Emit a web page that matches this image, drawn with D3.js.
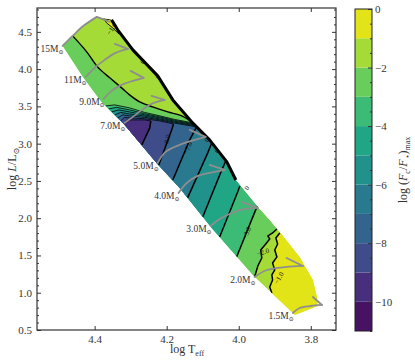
<!DOCTYPE html>
<html><head><meta charset="utf-8">
<script src="https://cdn.jsdelivr.net/npm/d3@7"></script>
<style>
body{margin:0;background:#fff}
svg text{font-family:'Liberation Serif','DejaVu Serif',serif !important}
</style>
</head><body>
<svg id="c" width="415" height="363"></svg>
<script>
// ---------- data (log Teff, log L) ----------
const levels = [-11,-10,-9,-8,-7,-6,-5,-4,-3,-2,-1,0];
const cbarTicks = [0,-2,-4,-6,-8,-10];
const xTicks = [4.4,4.2,4.0,3.8];
const yTicks = [0.5,1.0,1.5,2.0,2.5,3.0,3.5,4.0,4.5];

// ZAMS edge (top -> bottom)
const zams = [[4.489,4.312],[4.433,3.896],[4.381,3.560],[4.317,3.252],[4.228,2.742],
              [4.164,2.406],[4.075,1.869],[3.956,1.211],[3.844,0.701]];
// TAMS edge (bottom -> top)
const tams = [[3.781,0.822],[3.783,0.943],[3.794,1.171],[3.831,1.480],[3.886,1.815],
              [3.914,1.976],[3.947,2.151],[4.008,2.513],[4.033,2.755],[4.081,3.050],
              [4.128,3.279],[4.183,3.587],[4.225,3.909],[4.294,4.258],[4.336,4.527],
              [4.353,4.661],[4.394,4.701]];
const topEdge = [[4.431,4.581],[4.461,4.446]];

// contour level -2 (upper part)
const upperM2 = [[4.461,4.446],[4.422,4.232],[4.392,4.030],[4.358,3.883],[4.325,3.748],
                 [4.303,3.654],[4.275,3.560],[4.239,3.493],[4.197,3.426],[4.158,3.373],[4.128,3.279]];
// crowded contours near 7-9 Msun, levels -3 .. -9
const crowdLevels = [-3,-4,-5,-6,-7,-8,-9];
const crowdLines = [
 [[4.369,3.507],[4.344,3.520],[4.303,3.480],[4.261,3.419],[4.219,3.373],[4.178,3.325],[4.128,3.279]],
 [[4.361,3.466],[4.339,3.487],[4.303,3.453],[4.261,3.402],[4.219,3.359],[4.178,3.313],[4.125,3.265]],
 [[4.353,3.426],[4.333,3.453],[4.303,3.426],[4.261,3.386],[4.219,3.346],[4.178,3.301],[4.122,3.252]],
 [[4.344,3.386],[4.328,3.419],[4.303,3.399],[4.261,3.369],[4.219,3.332],[4.178,3.288],[4.119,3.238]],
 [[4.336,3.346],[4.322,3.386],[4.303,3.373],[4.261,3.352],[4.219,3.319],[4.178,3.276],[4.117,3.225]],
 [[4.328,3.305],[4.317,3.352],[4.303,3.346],[4.261,3.335],[4.219,3.305],[4.181,3.265]],
 [[4.319,3.265],[4.311,3.319],[4.303,3.319],[4.261,3.319],[4.244,3.305]]
];
// contours crossing the lower band (top -> ZAMS), levels -3 .. -9
const lowerLines = [
 [[3.947,2.164],[3.953,2.111],[4.006,1.480]],
 [[3.997,2.433],[4.003,2.352],[4.053,1.748]],
 [[4.036,2.768],[4.047,2.648],[4.100,2.017]],
 [[4.075,3.010],[4.086,2.876],[4.142,2.272]],
 [[4.117,3.225],[4.136,3.050],[4.183,2.513]],
 [[4.181,3.265],[4.186,3.185],[4.222,2.715]],
 [[4.244,3.305],[4.247,3.211],[4.269,2.983]]
];
// jagged contours -2 and -1 (top -> bottom)
const jaggedM2 = [[3.894,1.856],[3.906,1.802],[3.919,1.762],[3.914,1.721],[3.925,1.654],
                  [3.939,1.574],[3.936,1.466],[3.947,1.359],[3.956,1.211]];
const jaggedM1 = [[3.886,1.802],[3.897,1.735],[3.892,1.654],[3.900,1.574],[3.894,1.480],
                  [3.906,1.399],[3.900,1.305],[3.908,1.238],[3.906,1.171],[3.914,1.077],[3.908,0.997]];
// small > -1 patch near the 15 Msun TAMS
const topPatch = [[4.375,4.674],[4.353,4.661],[4.336,4.527],[4.333,4.473],[4.350,4.554],[4.367,4.621]];

// evolutionary tracks
const masses = ["15","11","9.0","7.0","5.0","4.0","3.0","2.0","1.5"];
const trackLogT = [
 [4.489,4.461,4.431,4.394],
 [4.425,4.400,4.372,4.342,4.308],
 [4.375,4.353,4.325,4.294,4.264],
 [4.317,4.294,4.272,4.242,4.206],
 [4.225,4.203,4.164,4.122,4.092],
 [4.167,4.144,4.114,4.081,4.039],
 [4.078,4.053,4.019,3.983,3.947],
 [3.956,3.922,3.867,3.822],
 [3.850,3.831,3.800,3.769]];
const trackLogL = [
 [4.312,4.446,4.581,4.701],
 [3.896,4.017,4.124,4.218,4.272],
 [3.601,3.708,3.789,3.842,3.883],
 [3.279,3.359,3.440,3.534,3.587],
 [2.742,2.889,2.983,3.050,3.091],
 [2.339,2.473,2.567,2.607,2.648],
 [1.896,1.990,2.070,2.124,2.138],
 [1.211,1.305,1.346,1.359],
 [0.728,0.795,0.822,0.836]];
const hookLogT = [4.358,4.344,4.300,4.242,4.136,4.081,3.992,3.867,3.794];
const hookLogL = [4.634,4.339,3.977,3.641,3.185,2.715,2.218,1.466,0.943];

// contour labels
const clabelText = ["−1.0","−2.0","−3.0","−7.0","−8.0","−1.0","0","0","0","0","0"];
const clabelPos = [[3.889,1.198],[3.933,1.547],[3.978,1.802],[4.142,2.943],[4.200,3.037],
                   [4.353,4.540],[4.267,4.097],[4.225,3.896],[4.089,3.050],[4.061,2.903],[3.978,2.406]];
const clabelRot = [-60,-15,-68,-67,-74,-55,-50,-50,-50,-50,-50];

// ---------- drawing ----------
const SERIF = "'Liberation Serif','DejaVu Serif',serif";
const svg = d3.select("#c").attr("font-family", SERIF);
const x = d3.scaleLinear().domain([4.56,3.73]).range([37,336]);
const y = d3.scaleLinear().domain([0.5,4.82]).range([330,8]);
const cy = d3.scaleLinear().domain([-11,0]).range([331,9]);
const col = v => d3.interpolateViridis((v + 11) / 11);
const line = d3.line().x(d=>x(d[0])).y(d=>y(d[1]));
const smooth = d3.line().x(d=>x(d[0])).y(d=>y(d[1])).curve(d3.curveCatmullRom.alpha(0.5));

const outline = zams.concat(tams, topEdge);
svg.append("defs").append("clipPath").attr("id","bandClip")
   .append("path").attr("d", line(outline) + "Z");

const g = svg.append("g").attr("clip-path","url(#bandClip)");
g.append("path").attr("d", line(outline) + "Z").attr("fill", col(-1.5));

function tamsBetween(hiL, loL){
  return tams.filter(p => p[1] < hiL - 1e-6 && p[1] > loL + 1e-6).sort((a,b)=>b[1]-a[1]);
}
const OUT_T = 4.70, OUT_L = -1;
function closeLeft(pts){ return pts.concat([[OUT_T, OUT_L],[OUT_T, pts[0][1]]]); }
const last = a => a[a.length-1];

const polyM2 = closeLeft(upperM2.concat(tamsBetween(last(upperM2)[1], jaggedM2[0][1]), jaggedM2));
g.append("path").attr("d", line(polyM2) + "Z").attr("fill", col(-2.5));
crowdLevels.forEach((lv,i) => {
  const up = crowdLines[i], lo = lowerLines[i];
  const poly = closeLeft(up.concat(tamsBetween(last(up)[1], lo[0][1]), lo));
  g.append("path").attr("d", line(poly) + "Z").attr("fill", col(lv - 0.5));
});
const polyM1 = jaggedM1.concat([[last(jaggedM1)[0], 0],[3.5,0],[3.5,2.2]]);
g.append("path").attr("d", line(polyM1) + "Z").attr("fill", col(-0.5));
g.append("path").attr("d", line(topPatch) + "Z").attr("fill", col(-0.5))
  .attr("stroke","#000").attr("stroke-width",0.9);

const cl = g.append("g").attr("fill","none").attr("stroke","#000");
cl.append("path").attr("d", smooth(upperM2)).attr("stroke-width",1.4);
crowdLines.forEach(l => cl.append("path").attr("d", line(l)).attr("stroke-width",0.8));
lowerLines.forEach(l => cl.append("path").attr("d", line(l)).attr("stroke-width",1.5));
cl.append("path").attr("d", line(jaggedM2)).attr("stroke-width",1.5);
cl.append("path").attr("d", line(jaggedM1)).attr("stroke-width",1.5);

svg.append("path").attr("d", line(tams.filter(p => p[1] > 2.45 && p[1] < 4.68)))
  .attr("fill","none").attr("stroke","#000").attr("stroke-width",3).attr("stroke-linejoin","round");

clabelText.forEach((t,i) => {
  svg.append("text")
    .attr("transform", `translate(${x(clabelPos[i][0])},${y(clabelPos[i][1])}) rotate(${clabelRot[i]})`)
    .attr("text-anchor","middle").attr("dy","0.35em").attr("font-size",7).attr("fill","#111").text(t);
});

const tg = svg.append("g").attr("fill","none").attr("stroke","#8e8e8e").attr("stroke-width",1.8)
  .attr("stroke-linecap","round").attr("stroke-linejoin","round");
masses.forEach((m,i) => {
  const pts = trackLogT[i].map((t,j) => [t, trackLogL[i][j]]);
  tg.append("path").attr("d", smooth(pts));
  tg.append("path").attr("d", line([last(pts), [hookLogT[i], hookLogL[i]]]));
  const lab = svg.append("text").attr("x", x(pts[0][0]) + 1).attr("y", y(pts[0][1]) + 6)
    .attr("text-anchor","end").attr("font-size",9.5).attr("fill","#333");
  lab.append("tspan").text(m + "M");
  lab.append("tspan").attr("font-size",6).attr("dy",2).text("⊙");
});

const fontAxis = a => a.attr("font-family", SERIF).attr("font-size",11);
const styleAxis = a => { a.select(".domain").remove(); a.selectAll("line").attr("stroke","#333"); a.selectAll("text").attr("fill","#333"); };
svg.append("g").attr("transform","translate(0,330)")
  .call(d3.axisBottom(x).tickValues(xTicks).tickSize(-4).tickPadding(5).tickFormat(d3.format(".1f")))
  .call(fontAxis).call(styleAxis);
svg.append("g").attr("transform","translate(0,8)")
  .call(d3.axisTop(x).tickValues(xTicks).tickSize(-4).tickFormat(""))
  .call(styleAxis);
const yMinor = d3.range(5,49).map(d => d/10).filter(d => Math.abs(d*2 - Math.round(d*2)) > 1e-6);
svg.append("g").attr("transform","translate(37,0)")
  .call(d3.axisLeft(y).tickValues(yTicks).tickSize(-4).tickPadding(5).tickFormat(d3.format(".1f")))
  .call(fontAxis).call(styleAxis);
svg.append("g").attr("transform","translate(37,0)")
  .call(d3.axisLeft(y).tickValues(yMinor).tickSize(-2).tickFormat("")).call(styleAxis);
svg.append("g").attr("transform","translate(336,0)")
  .call(d3.axisRight(y).tickValues(yTicks).tickSize(-4).tickFormat("")).call(styleAxis);
svg.append("g").attr("transform","translate(336,0)")
  .call(d3.axisRight(y).tickValues(yMinor).tickSize(-2).tickFormat("")).call(styleAxis);
svg.append("rect").attr("x",37).attr("y",8).attr("width",299).attr("height",322)
  .attr("fill","none").attr("stroke","#333").attr("stroke-width",1.2);

const xt = svg.append("text").attr("x",187).attr("y",353).attr("text-anchor","middle")
  .attr("font-size",12).attr("fill","#333");
xt.append("tspan").text("log T");
xt.append("tspan").attr("font-size",8).attr("dy",3).text("eff");
const yt = svg.append("text").attr("transform","translate(16,169) rotate(-90)")
  .attr("text-anchor","middle").attr("font-size",12).attr("fill","#333");
yt.append("tspan").text("log ");
yt.append("tspan").attr("font-style","italic").text("L");
yt.append("tspan").text("/L");
yt.append("tspan").attr("font-size",8).attr("dy",3).text("⊙");

const cb = svg.append("g");
d3.range(levels.length - 1).forEach(i => {
  cb.append("rect").attr("x",355).attr("width",17)
    .attr("y", cy(levels[i+1])).attr("height", cy(levels[i]) - cy(levels[i+1]))
    .attr("fill", col((levels[i] + levels[i+1]) / 2));
});
const cbMinor = d3.range(-22,1).map(d => d/2).filter(d => !cbarTicks.includes(d));
svg.append("g").attr("transform","translate(372,0)")
  .call(d3.axisRight(cy).tickValues(cbMinor).tickSize(-2).tickFormat("")).call(styleAxis);
svg.append("g").attr("transform","translate(372,0)")
  .call(d3.axisRight(cy).tickValues(cbarTicks).tickSize(-4).tickPadding(3).tickFormat(d3.format("d")))
  .call(fontAxis).call(styleAxis);
svg.append("rect").attr("x",355).attr("y",9).attr("width",17).attr("height",322)
  .attr("fill","none").attr("stroke","#222").attr("stroke-width",1);
const ct = svg.append("text").attr("transform","translate(407,170) rotate(-90)")
  .attr("text-anchor","middle").attr("font-size",12).attr("fill","#333");
ct.append("tspan").text("log (");
ct.append("tspan").attr("font-style","italic").text("F");
ct.append("tspan").attr("font-size",8).attr("dy",3).text("c");
ct.append("tspan").attr("dy",-3).text("/");
ct.append("tspan").attr("font-style","italic").text("F");
ct.append("tspan").attr("font-size",8).attr("dy",3).text("⋆");
ct.append("tspan").attr("dy",-3).text(")");
ct.append("tspan").attr("font-size",8).attr("dy",3).text("max");
</script>
</body></html>
